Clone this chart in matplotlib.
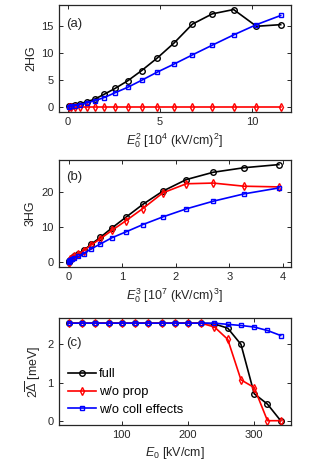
import matplotlib
matplotlib.use("Agg")
import numpy as np
import matplotlib.pyplot as plt

plt.rcParams['font.family'] = ['Liberation Sans', 'DejaVu Sans']
plt.rcParams['mathtext.fontset'] = 'custom'
plt.rcParams['mathtext.rm'] = 'Liberation Sans'
plt.rcParams['mathtext.it'] = 'Liberation Sans:italic'
plt.rcParams['mathtext.bf'] = 'Liberation Sans:bold'

# field amplitudes [kV/cm]
E0 = np.array([20, 40, 60, 80, 100, 120, 140, 160, 180, 200,
               220, 240, 260, 280, 300, 320, 340])

# (a) second harmonic
shg_full = [0.05, 0.15, 0.35, 0.55, 0.9, 1.4, 2.3, 3.4, 4.8, 6.7,
            9.0, 11.8, 15.3, 17.2, 18.0, 14.9, 15.2]
shg_noprop = [0.0] * 17
shg_nocoll = [0.02, 0.1, 0.2, 0.4, 0.7, 1.1, 1.7, 2.6, 3.6, 4.9,
              6.4, 7.9, 9.6, 11.4, 13.3, 15.2, 16.9]

# (b) third harmonic
thg_full = [0.05, 0.3, 0.6, 1.2, 1.7, 2.3, 3.3, 5.0, 7.0, 9.7,
            12.8, 16.5, 20.3, 23.6, 25.7, 27.0, 27.9]
thg_noprop = [-0.4, 0.3, 0.7, 1.2, 1.7, 2.2, 3.2, 4.8, 6.6, 9.0,
              11.8, 15.3, 19.8, 22.4, 22.6, 21.7, 21.5]
thg_nocoll = [0.0, 0.2, 0.4, 0.8, 1.2, 1.6, 2.4, 3.7, 5.1, 6.9,
              8.6, 10.7, 12.9, 15.2, 17.4, 19.5, 21.2]

# (c) gap 2*Delta [meV]
gap_full = [2.55, 2.55, 2.55, 2.55, 2.55, 2.55, 2.55, 2.55, 2.55, 2.55,
            2.55, 2.53, 2.42, 2.0, 0.72, 0.45, 0.02]
gap_noprop = [2.55, 2.55, 2.55, 2.55, 2.55, 2.55, 2.55, 2.55, 2.55, 2.55,
              2.55, 2.45, 2.13, 1.08, 0.88, 0.02, 0.02]
gap_nocoll = [2.55, 2.55, 2.55, 2.55, 2.55, 2.55, 2.55, 2.55, 2.55, 2.55,
              2.55, 2.55, 2.52, 2.49, 2.45, 2.36, 2.23]

labels = ['full', 'w/o prop', 'w/o coll effects']
styles = [dict(color='k', marker='o', ms=4.0),
          dict(color='#ff0000', marker='d', ms=4.0),
          dict(color='#0000ff', marker='s', ms=3.0)]

axcol = '#262626'
fs = 8

fig = plt.figure(figsize=(3.31, 4.68), dpi=100)
left, width, height = 0.178, 0.700, 0.229
ax_a = fig.add_axes([left, 0.761, width, height])
ax_b = fig.add_axes([left, 0.430, width, 0.228])
ax_c = fig.add_axes([left, 0.092, width, height])


def draw(ax, x, series):
    for y, st, lab in zip(series, styles, labels):
        ax.plot(x, y, lw=1.2, mfc='none', mew=1.0, label=lab, **st)


def style(ax):
    for sp in ax.spines.values():
        sp.set_color(axcol)
        sp.set_linewidth(0.9)
    ax.tick_params(direction='in', top=True, right=True, length=3,
                   width=0.7, colors=axcol, labelsize=fs, pad=4)


draw(ax_a, E0**2 / 1e4, [shg_full, shg_noprop, shg_nocoll])
ax_a.set_xlim(-0.5, 12.1)
ax_a.set_ylim(-0.95, 18.9)
ax_a.set_xticks([0, 5, 10])
ax_a.set_yticks([0, 5, 10, 15])
ax_a.set_xlabel(r'$E_0^2$ [10$^4$ (kV/cm)$^2$]', fontsize=fs + 1, color=axcol, labelpad=3)
ax_a.set_ylabel('2HG', fontsize=fs + 1, color=axcol, labelpad=3)
ax_a.text(0.03, 0.82, '(a)', transform=ax_a.transAxes, fontsize=fs + 1.5,
          va='center', color=axcol)
style(ax_a)

draw(ax_b, E0**3 / 1e7, [thg_full, thg_noprop, thg_nocoll])
ax_b.set_xlim(-0.19, 4.15)
ax_b.set_ylim(-1.4, 29.2)
ax_b.set_xticks([0, 1, 2, 3, 4])
ax_b.set_yticks([0, 10, 20])
ax_b.set_xlabel(r'$E_0^3$ [10$^7$ (kV/cm)$^3$]', fontsize=fs + 1, color=axcol, labelpad=3)
ax_b.set_ylabel('3HG', fontsize=fs + 1, color=axcol, labelpad=3)
ax_b.text(0.03, 0.84, '(b)', transform=ax_b.transAxes, fontsize=fs + 1.5,
          va='center', color=axcol)
style(ax_b)

draw(ax_c, E0, [gap_full, gap_noprop, gap_nocoll])
ax_c.set_xlim(5, 355)
ax_c.set_ylim(-0.09, 2.69)
ax_c.set_xticks([100, 200, 300])
ax_c.set_yticks([0, 1, 2])
ax_c.set_xlabel(r'$E_0$ [kV/cm]', fontsize=fs + 1, color=axcol, labelpad=3)
ax_c.set_ylabel(r'2$\overline{\Delta}$ [meV]', fontsize=fs + 1, color=axcol, labelpad=3)
ax_c.text(0.03, 0.76, '(c)', transform=ax_c.transAxes, fontsize=fs + 1.5,
          va='center', color=axcol)
style(ax_c)
ax_c.legend(loc='lower left', bbox_to_anchor=(0.0, 0.0), frameon=False,
            fontsize=fs + 1.3, handlelength=2.2, handletextpad=0.2,
            labelspacing=0.45, borderaxespad=0.3)

fig.savefig('out.png', dpi=100)
